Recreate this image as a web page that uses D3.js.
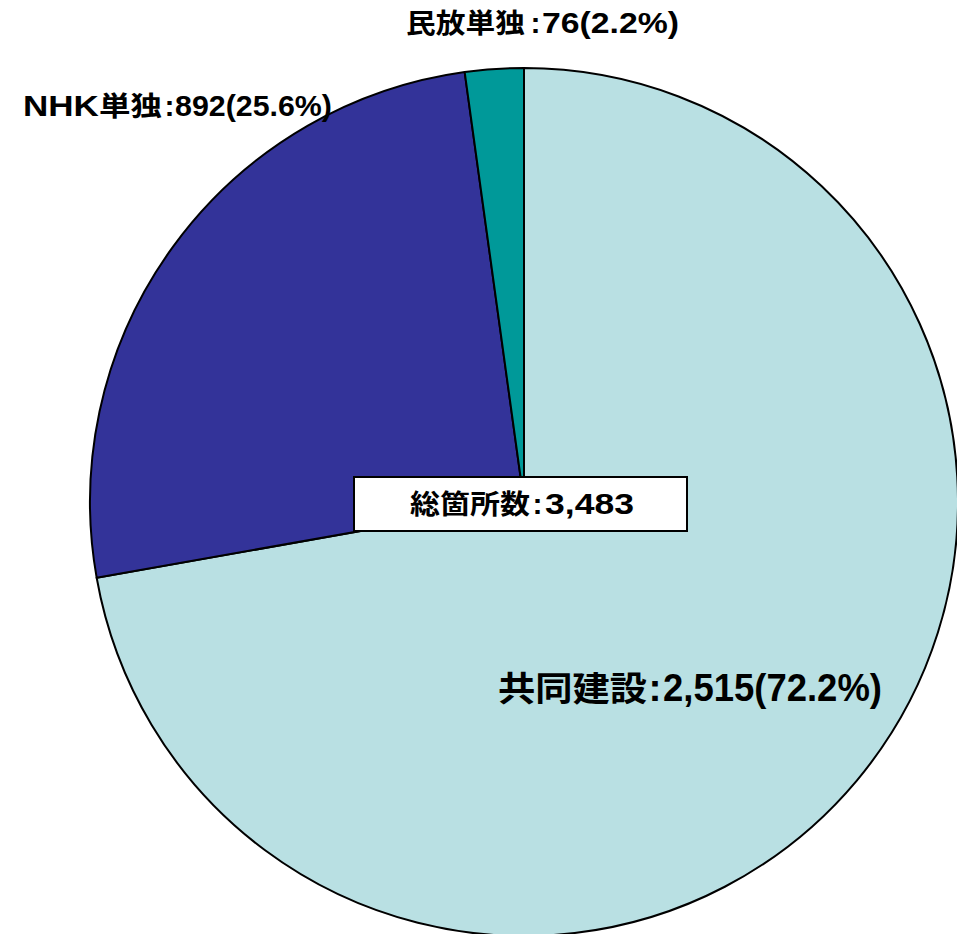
<!DOCTYPE html>
<html><head><meta charset="utf-8">
<script src="https://cdn.jsdelivr.net/npm/d3@7"></script>
<style>body{margin:0;background:#fff}</style>
</head><body>
<svg id="c" width="957" height="934"></svg>
<script>
const categories = ["共同建設", "NHK単独", "民放単独"];
const values = [2515, 892, 76];
const percents = ["72.2%", "25.6%", "2.2%"];
const colors = ["#B9E0E3", "#333399", "#009999"];
const totalLabel = "総箇所数";
const total = 3483;

const svg = d3.select("#c");
const cx = 524, cy = 502, R = 434;
const pie = d3.pie().sort(null).value(d => d)(values);
const arc = d3.arc().innerRadius(0).outerRadius(R);
const g = svg.append("g").attr("transform", `translate(${cx},${cy})`);
g.selectAll("path").data(pie).enter().append("path")
  .attr("d", arc).attr("fill", (d,i) => colors[i])
  .attr("stroke", "#000").attr("stroke-width", 2).attr("stroke-linejoin","round");

const fmt = d3.format(",");
const latin = "'Liberation Sans', Arial, sans-serif";
const cjk = "'Noto Sans CJK JP', sans-serif";

// layout: [nameStart, nameEnd, colonX, numStart, numEnd, baseline, cjkSize, latinSize]
const layout = [
  [498, 647, 655, 663, 882, 701, 34, 39],
  [23, 162, 169.5, 175, 332, 116, 27, 30],
  [406, 525, 535.5, 542, 679, 33, 27, 30]
];

function fitText(grp, x0, x1, by, build) {
  const t = grp.append("text").attr("x", 0).attr("y", 0);
  build(t);
  const w = t.node().getBBox().width;
  const s = (x1 - x0) / w;
  t.attr("transform", `translate(${x0},${by}) scale(${s},1)`);
}

function drawLabel(name, num, L) {
  const [n0, n1, cX, d0, d1, by, cs, ls] = L;
  const grp = svg.append("g").attr("fill", "#000").attr("font-weight", "bold");
  const m = name.match(/^([A-Za-z]*)(.*)$/);
  fitText(grp, n0, n1, by, t => {
    if (m[1]) t.append("tspan").attr("font-family", latin).attr("font-size", ls).text(m[1]);
    t.append("tspan").attr("font-family", cjk).attr("font-size", cs).text(m[2]);
  });
  grp.append("text").attr("x", cX).attr("y", by).attr("text-anchor", "middle")
    .attr("font-family", latin).attr("font-size", ls).text(":");
  fitText(grp, d0, d1, by, t => {
    t.attr("font-family", latin).attr("font-size", ls).text(num);
  });
}

categories.forEach((c, i) => {
  drawLabel(c, `${fmt(values[i])}(${percents[i]})`, layout[i]);
});

svg.append("rect").attr("x", 354).attr("y", 477).attr("width", 333).attr("height", 54)
  .attr("fill", "#fff").attr("stroke", "#000").attr("stroke-width", 2);
drawLabel(totalLabel, fmt(total), [410, 530, 537.5, 545, 634, 514, 27, 30]);
</script>
</body></html>
